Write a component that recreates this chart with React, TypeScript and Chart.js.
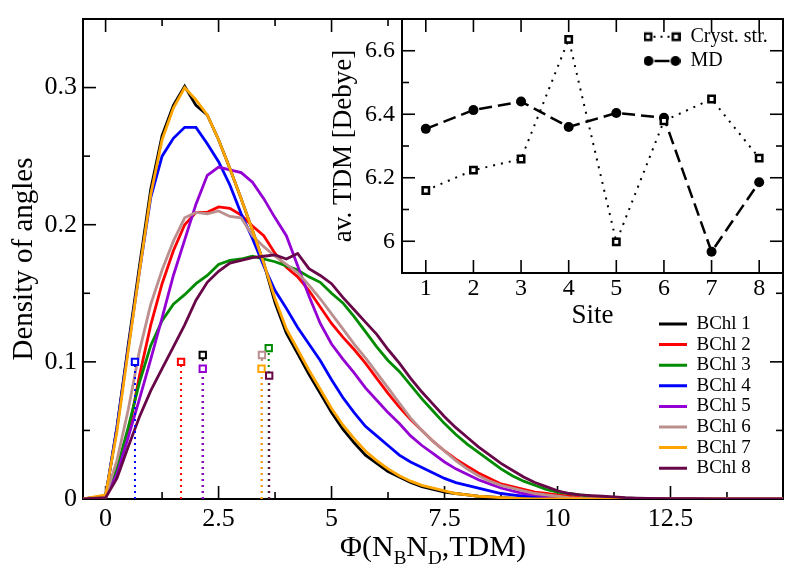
import React, { useEffect, useRef } from 'react';
import { Chart, registerables } from 'chart.js';

Chart.register(...registerables);

// ---------- data ----------
const phi = [-0.5,
  0, 0.25, 0.5, 0.75, 1, 1.25, 1.5, 1.75, 2, 2.25, 2.5, 2.75, 3, 3.25, 3.5, 3.75,
  4, 4.25, 4.5, 4.75, 5, 5.25, 5.5, 5.75, 6, 6.25, 6.5, 6.75, 7, 7.25, 7.5, 7.75,
  8, 8.25, 8.5, 8.75, 9, 9.25, 9.5, 9.75, 10, 10.25, 10.5, 10.75, 11, 11.25, 11.5, 11.75,
  12, 12.5, 13, 13.5, 14, 15];

const bchl1 = [0,
  0.002, 0.052, 0.112, 0.170, 0.226, 0.265, 0.287, 0.301, 0.287, 0.280, 0.262, 0.241,
  0.219, 0.196, 0.172, 0.143, 0.121, 0.106, 0.091, 0.077, 0.063, 0.051, 0.041, 0.032,
  0.026, 0.020, 0.016, 0.012, 0.009, 0.007, 0.005, 0.004, 0.003, 0.002, 0.0015, 0.001,
  0.0007, 0.0004, 0.0002, 0, 0, 0, 0, 0, 0, 0, 0, 0,
  0, 0, 0, 0, 0, 0];
const bchl2 = [0,
  0.001, 0.020, 0.047, 0.090, 0.127, 0.157, 0.181, 0.200, 0.209, 0.209, 0.213, 0.212,
  0.207, 0.199, 0.192, 0.179, 0.169, 0.162, 0.152, 0.140, 0.128, 0.118, 0.109, 0.099,
  0.088, 0.077, 0.067, 0.058, 0.050, 0.042, 0.035, 0.029, 0.024, 0.019, 0.015, 0.011,
  0.009, 0.007, 0.005, 0.004, 0.003, 0.002, 0.001, 0.0006, 0.0003, 0, 0, 0,
  0, 0, 0, 0, 0, 0];
const bchl3 = [0,
  0.001, 0.022, 0.052, 0.085, 0.112, 0.130, 0.142, 0.149, 0.157, 0.163, 0.171, 0.174,
  0.175, 0.177, 0.175, 0.173, 0.170, 0.167, 0.162, 0.158, 0.150, 0.143, 0.133, 0.122,
  0.111, 0.101, 0.093, 0.083, 0.073, 0.064, 0.055, 0.047, 0.040, 0.034, 0.028, 0.022,
  0.017, 0.013, 0.010, 0.007, 0.005, 0.004, 0.003, 0.002, 0.0015, 0.001, 0.0007, 0.0004,
  0.0002, 0, 0, 0, 0, 0];
const bchl4 = [0,
  0.002, 0.052, 0.110, 0.166, 0.220, 0.250, 0.263, 0.271, 0.271, 0.259, 0.246, 0.229,
  0.208, 0.190, 0.170, 0.152, 0.139, 0.125, 0.113, 0.101, 0.087, 0.074, 0.063, 0.053,
  0.046, 0.039, 0.032, 0.027, 0.023, 0.019, 0.015, 0.012, 0.010, 0.008, 0.006, 0.004,
  0.003, 0.002, 0.0015, 0.001, 0.0005, 0, 0, 0, 0, 0, 0, 0,
  0, 0, 0, 0, 0, 0];
const bchl5 = [0,
  0.001, 0.018, 0.045, 0.073, 0.102, 0.132, 0.163, 0.189, 0.215, 0.236, 0.242, 0.240,
  0.238, 0.231, 0.219, 0.205, 0.192, 0.170, 0.148, 0.128, 0.113, 0.102, 0.092, 0.081,
  0.072, 0.063, 0.055, 0.046, 0.039, 0.033, 0.027, 0.022, 0.018, 0.014, 0.011, 0.008,
  0.006, 0.004, 0.003, 0.002, 0.001, 0.0005, 0, 0, 0, 0, 0, 0,
  0, 0, 0, 0, 0, 0];
const bchl6 = [0,
  0.002, 0.028, 0.065, 0.108, 0.142, 0.167, 0.188, 0.205, 0.209, 0.208, 0.210, 0.206,
  0.205, 0.192, 0.184, 0.177, 0.171, 0.165, 0.156, 0.146, 0.135, 0.124, 0.113, 0.103,
  0.092, 0.081, 0.070, 0.059, 0.050, 0.042, 0.035, 0.028, 0.022, 0.017, 0.013, 0.010,
  0.008, 0.006, 0.004, 0.003, 0.002, 0.001, 0.0005, 0, 0, 0, 0, 0,
  0, 0, 0, 0, 0, 0];
const bchl7 = [0,
  0.003, 0.049, 0.108, 0.166, 0.222, 0.262, 0.285, 0.300, 0.291, 0.280, 0.262, 0.241,
  0.219, 0.196, 0.172, 0.146, 0.124, 0.109, 0.094, 0.080, 0.066, 0.054, 0.044, 0.035,
  0.028, 0.022, 0.017, 0.013, 0.010, 0.008, 0.006, 0.004, 0.003, 0.002, 0.0015, 0.001,
  0.0006, 0.0003, 0, 0, 0, 0, 0, 0, 0, 0, 0, 0,
  0, 0, 0, 0, 0, 0];
const bchl8 = [0,
  0.001, 0.015, 0.038, 0.060, 0.079, 0.095, 0.111, 0.127, 0.145, 0.158, 0.166, 0.172,
  0.174, 0.176, 0.177, 0.178, 0.175, 0.179, 0.168, 0.163, 0.157, 0.147, 0.138, 0.129,
  0.120, 0.109, 0.099, 0.088, 0.078, 0.069, 0.060, 0.052, 0.045, 0.038, 0.032, 0.026,
  0.021, 0.016, 0.012, 0.009, 0.006, 0.004, 0.003, 0.0025, 0.002, 0.0015, 0.001, 0.0007,
  0.0005, 0.0003, 0.0002, 0.0001, 0, 0];

const seriesLabels = ['BChl 1', 'BChl 2', 'BChl 3', 'BChl 4', 'BChl 5', 'BChl 6', 'BChl 7', 'BChl 8'];
const seriesValues = [bchl1, bchl2, bchl3, bchl4, bchl5, bchl6, bchl7, bchl8];
const seriesColors = ['#000000', '#ff0000', '#008b00', '#0000ff', '#9400d3', '#bc8f8f', '#ffa500', '#670748'];

const markerPhi = [2.15, 1.67, 3.61, 0.65, 2.15, 3.46, 3.45, 3.62];
const markerDensity = [0.105, 0.100, 0.110, 0.100, 0.095, 0.105, 0.095, 0.090];

const sites = [1, 2, 3, 4, 5, 6, 7, 8];
const crystTDM = [6.160, 6.224, 6.259, 6.636, 5.998, 6.379, 6.448, 6.262];
const mdTDM = [6.354, 6.413, 6.440, 6.360, 6.404, 6.389, 5.967, 6.186];

// tick values
const mainXTicks = [0, 2.5, 5, 7.5, 10, 12.5];
const mainYTicks = [0, 0.1, 0.2, 0.3];
const insetXTicks = [1, 2, 3, 4, 5, 6, 7, 8];
const insetYTicks = [6, 6.2, 6.4, 6.6];

const xTitleParts: [string, boolean][] = [['Φ(N', false], ['B', true], ['N', false], ['D', true], [',TDM)', false]];

const FONT = "'Liberation Serif', 'Times New Roman', serif";

// ---------- helpers ----------
function framePlugin(cfg: { major: number; minor: number; xMinor: boolean; yMinor: boolean; frameW: number; tickW: number; fill?: string }) {
  return {
    id: 'frameTicks',
    beforeDraw(chart: any) {
      if (!cfg.fill) return;
      const { ctx, chartArea: a } = chart;
      ctx.save();
      ctx.fillStyle = cfg.fill;
      ctx.fillRect(a.left, a.top, a.right - a.left, a.bottom - a.top);
      ctx.restore();
    },
    beforeDatasetsDraw(chart: any) {
      const { ctx, chartArea: a, scales } = chart;
      ctx.save();
      ctx.setLineDash([]);
      ctx.strokeStyle = '#000';
      ctx.lineCap = 'butt';
      const seg = (x1: number, y1: number, x2: number, y2: number) => {
        ctx.beginPath(); ctx.moveTo(x1, y1); ctx.lineTo(x2, y2); ctx.stroke();
      };
      const marks = (scale: any, withMinor: boolean) => {
        const major = scale.ticks.map((t: any) => t.value);
        const out = major.map((v: number) => ({ v, len: cfg.major }));
        if (withMinor && major.length > 1) {
          const step = major[1] - major[0];
          out.push({ v: major[0] - step / 2, len: cfg.minor });
          major.forEach((v: number) => out.push({ v: v + step / 2, len: cfg.minor }));
        }
        return out;
      };
      ctx.lineWidth = cfg.tickW;
      marks(scales.x, cfg.xMinor).forEach(({ v, len }: any) => {
        const p = scales.x.getPixelForValue(v);
        if (p <= a.left + 1 || p >= a.right - 1) return;
        seg(p, a.bottom, p, a.bottom - len);
        seg(p, a.top, p, a.top + len);
      });
      marks(scales.y, cfg.yMinor).forEach(({ v, len }: any) => {
        const p = scales.y.getPixelForValue(v);
        if (p <= a.top + 1 || p >= a.bottom - 1) return;
        seg(a.left, p, a.left + len, p);
        seg(a.right, p, a.right - len, p);
      });
      ctx.lineWidth = cfg.frameW;
      ctx.strokeRect(a.left, a.top, a.right - a.left, a.bottom - a.top);
      ctx.restore();
    },
  };
}

function placeLegend(left: number, top: number) {
  return {
    id: 'placeLegend',
    afterLayout(chart: any) {
      const lg = chart.legend;
      if (!lg) return;
      const w = lg.width, h = lg.height;
      lg.left = left; lg.top = top; lg.right = left + w; lg.bottom = top + h;
    },
  };
}

const xTitlePlugin = {
  id: 'xTitleSub',
  afterDraw(chart: any) {
    const { ctx, chartArea: a } = chart;
    ctx.save();
    ctx.fillStyle = '#000';
    ctx.textAlign = 'left';
    ctx.textBaseline = 'alphabetic';
    const big = `30px ${FONT}`;
    const small = `19px ${FONT}`;
    let total = 0;
    const widths = xTitleParts.map(([t, sub]) => {
      ctx.font = sub ? small : big;
      const w = ctx.measureText(t).width;
      total += w;
      return w;
    });
    let x = (a.left + a.right) / 2 - total / 2;
    const base = a.bottom + 57;
    xTitleParts.forEach(([t, sub], i) => {
      ctx.font = sub ? small : big;
      ctx.fillText(t, x, sub ? base + 8 : base);
      x += widths[i];
    });
    ctx.restore();
  },
};

function symbolImage(kind: 'square' | 'circle') {
  const c = document.createElement('canvas');
  c.width = 37; c.height = 14;
  const g = c.getContext('2d') as CanvasRenderingContext2D;
  g.strokeStyle = '#000';
  g.fillStyle = '#000';
  if (kind === 'square') {
    g.lineWidth = 2;
    g.setLineDash([2, 5]);
    g.beginPath(); g.moveTo(10, 7); g.lineTo(28, 7); g.stroke();
    g.setLineDash([]);
    g.lineWidth = 2.5;
    [4.5, 32.5].forEach((cx) => {
      g.fillStyle = '#fff';
      g.fillRect(cx - 3.2, 7 - 3.2, 6.4, 6.4);
      g.strokeRect(cx - 3.2, 7 - 3.2, 6.4, 6.4);
    });
  } else {
    g.lineWidth = 2.5;
    g.beginPath(); g.moveTo(11, 7); g.lineTo(26, 7); g.stroke();
    [5, 32].forEach((cx) => {
      g.beginPath(); g.arc(cx, 7, 5, 0, Math.PI * 2); g.fill();
    });
  }
  return c;
}

const tickFont = (size: number) => ({ size, family: FONT, lineHeight: 1 });
const setTicks = (values: number[]) => (scale: any) => {
  scale.ticks = values.map((v) => ({ value: v }));
};

export default function App() {
  const mainRef = useRef<HTMLCanvasElement>(null);
  const insetRef = useRef<HTMLCanvasElement>(null);

  useEffect(() => {
    document.body.style.margin = '0';
    Chart.defaults.font.family = FONT;
    Chart.defaults.color = '#000';

    const curveSets = seriesValues.map((ys, i) => ({
      label: seriesLabels[i],
      data: phi.map((x, k) => ({ x, y: ys[k] })),
      borderColor: seriesColors[i],
      backgroundColor: seriesColors[i],
      borderWidth: 2.8,
      pointRadius: 0,
      tension: 0,
      fill: false,
      order: 20 - i,
    }));
    const markerSets = markerPhi.map((mx, i) => ({
      label: seriesLabels[i] + ' marker',
      data: [{ x: mx, y: 0 }, { x: mx, y: markerDensity[i] }],
      borderColor: seriesColors[i],
      backgroundColor: '#ffffff',
      borderWidth: 2,
      borderDash: [2, 4],
      pointStyle: 'rect',
      pointRadius: [0, 4.5],
      pointBorderWidth: 2,
      pointBorderColor: seriesColors[i],
      pointBackgroundColor: '#ffffff',
      fill: false,
      order: markerDensity[i] * 100,
    }));

    const main = new Chart(mainRef.current as HTMLCanvasElement, {
      type: 'line',
      data: { datasets: [...curveSets, ...markerSets] as any },
      options: {
        responsive: false,
        animation: false,
        devicePixelRatio: 1,
        events: [],
        layout: { padding: { left: 0, right: 11, top: 10, bottom: 0 } },
        scales: {
          x: {
            type: 'linear', min: -0.5, max: 14.99, bounds: 'data',
            afterBuildTicks: setTicks(mainXTicks),
            ticks: { autoSkip: false, maxRotation: 0, font: tickFont(26), color: '#000', padding: 7, callback: (v: any) => String(v) },
            grid: { display: false, drawTicks: false },
            border: { display: false },
            title: { display: false },
            afterFit: (s: any) => { s.height = 75; },
          } as any,
          y: {
            type: 'linear', min: 0, max: 0.35, bounds: 'data',
            afterBuildTicks: setTicks(mainYTicks),
            ticks: { autoSkip: false, font: tickFont(26), color: '#000', padding: 6, callback: (v: any) => (Number(v) === 0 ? '0' : Number(v).toFixed(1)) },
            grid: { display: false, drawTicks: false },
            border: { display: false },
            title: { display: true, text: 'Density of angles', color: '#000', font: { size: 29, family: FONT, lineHeight: 1 }, padding: { top: 10, bottom: 0 } },
            afterFit: (s: any) => { s.width = 83; },
          } as any,
        },
        plugins: {
          tooltip: { enabled: false },
          legend: {
            display: true,
            position: 'chartArea' as any,
            align: 'start',
            labels: {
              boxWidth: 28,
              boxHeight: 3,
              padding: 1.6,
              color: '#000',
              font: { size: 19, family: FONT },
              generateLabels: (chart: any) =>
                (Chart.defaults.plugins.legend.labels.generateLabels as any)(chart)
                  .filter((it: any) => it.datasetIndex < 8)
                  .map((it: any) => ({ ...it, lineWidth: 0, fillStyle: seriesColors[it.datasetIndex], strokeStyle: seriesColors[it.datasetIndex], lineDash: [], fontColor: '#000' })),
              sort: (a: any, b: any) => a.datasetIndex - b.datasetIndex,
            },
          },
        },
      },
      plugins: [
        framePlugin({ major: 13, minor: 7, xMinor: true, yMinor: true, frameW: 2, tickW: 1.6 }),
        placeLegend(657.4, 312.9),
        xTitlePlugin,
      ],
    } as any);

    const symSquare = symbolImage('square');
    const symCircle = symbolImage('circle');

    const inset = new Chart(insetRef.current as HTMLCanvasElement, {
      type: 'line',
      data: {
        datasets: [
          {
            label: 'Cryst. str.',
            data: sites.map((s, i) => ({ x: s, y: crystTDM[i] })),
            borderColor: '#000',
            backgroundColor: '#fff',
            borderWidth: 2,
            borderDash: [2, 6],
            pointStyle: 'rect',
            pointRadius: 4.5,
            pointBorderWidth: 2.5,
            pointBorderColor: '#000',
            pointBackgroundColor: '#fff',
            fill: false,
            tension: 0,
          },
          {
            label: 'MD',
            data: sites.map((s, i) => ({ x: s, y: mdTDM[i] })),
            borderColor: '#000',
            backgroundColor: '#000',
            borderWidth: 2.5,
            borderDash: [13, 6],
            pointStyle: 'circle',
            pointRadius: 5,
            pointBorderWidth: 0,
            pointBackgroundColor: '#000',
            fill: false,
            tension: 0,
          },
        ] as any,
      },
      options: {
        responsive: false,
        animation: false,
        devicePixelRatio: 1,
        events: [],
        layout: { padding: { left: 0, right: 11, top: 10, bottom: 0 } },
        scales: {
          x: {
            type: 'linear', min: 0.5, max: 8.5, bounds: 'data',
            afterBuildTicks: setTicks(insetXTicks),
            ticks: { autoSkip: false, maxRotation: 0, font: tickFont(24), color: '#000', padding: 4, callback: (v: any) => String(v) },
            grid: { display: false, drawTicks: false },
            border: { display: false },
            title: { display: true, text: 'Site', color: '#000', font: { size: 27, family: FONT, lineHeight: 1 }, padding: { top: 0, bottom: 10.5 } },
            afterFit: (s: any) => { s.height = 67; },
          } as any,
          y: {
            type: 'linear', min: 5.9, max: 6.7, bounds: 'data',
            afterBuildTicks: setTicks(insetYTicks),
            ticks: { autoSkip: false, font: tickFont(24), color: '#000', padding: 7, callback: (v: any) => String(Number(Number(v).toFixed(1))) },
            grid: { display: false, drawTicks: false },
            border: { display: false },
            title: { display: true, text: 'av. TDM [Debye]', color: '#000', font: { size: 27, family: FONT, lineHeight: 1 }, padding: { top: 10.5, bottom: 0 } },
            afterFit: (s: any) => { s.width = 82; },
          } as any,
        },
        plugins: {
          tooltip: { enabled: false },
          legend: {
            display: true,
            position: 'chartArea' as any,
            align: 'start',
            labels: {
              usePointStyle: true,
              pointStyleWidth: 37,
              padding: 4.3,
              color: '#000',
              font: { size: 20, family: FONT },
              generateLabels: () => [
                { text: 'Cryst. str.', pointStyle: symSquare, fillStyle: '#000', strokeStyle: '#000', lineWidth: 0, hidden: false, datasetIndex: 0, fontColor: '#000' },
                { text: 'MD', pointStyle: symCircle, fillStyle: '#000', strokeStyle: '#000', lineWidth: 0, hidden: false, datasetIndex: 1, fontColor: '#000' },
              ],
            },
          },
        },
      },
      plugins: [
        framePlugin({ major: 13, minor: 7, xMinor: false, yMinor: true, frameW: 2, tickW: 1.6, fill: '#ffffff' }),
        placeLegend(319.2, 22.4),
      ],
    } as any);

    return () => {
      main.destroy();
      inset.destroy();
    };
  }, []);

  return (
    <div style={{ position: 'fixed', left: 0, top: 0, width: 794, height: 574, background: '#ffffff' }}>
      <canvas ref={mainRef} width={794} height={574} style={{ position: 'absolute', left: 0, top: 0, width: 794, height: 574 }} />
      <canvas ref={insetRef} width={474} height={340} style={{ position: 'absolute', left: 320, top: 0, width: 474, height: 340 }} />
    </div>
  );
}
